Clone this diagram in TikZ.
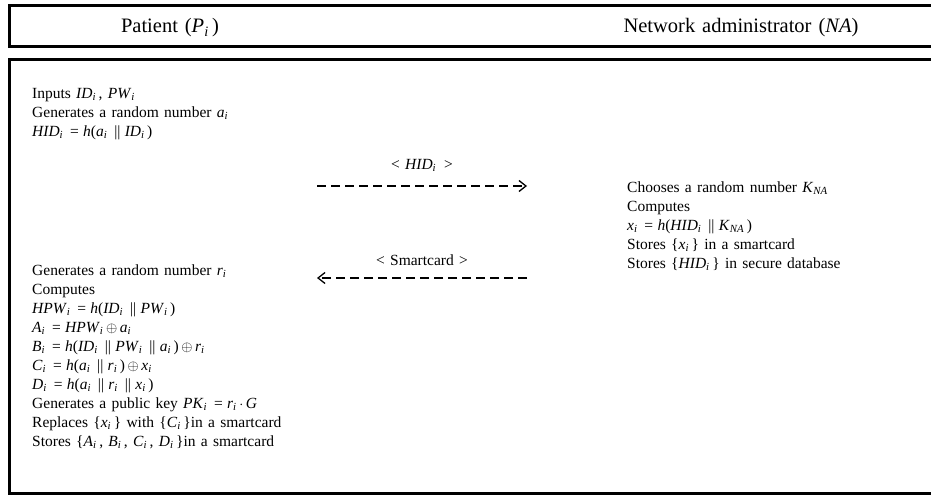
\documentclass[tikz,border=0pt]{standalone}
\usepackage{fontspec}
\setmainfont{Liberation Serif}
\usetikzlibrary{arrows.meta}
% italic variable with optional italic subscript
\newcommand\vr[1]{\textit{#1}}
\newcommand\sbi[1]{\textsubscript{\textit{#1}}\,}
\newcommand\eqs{\;=\;}
\newcommand\cc{\;||\;}
\newcommand\protofont{\fontsize{15.5}{19}\selectfont}
\newcommand\headfont{\fontsize{20.5}{24}\selectfont}
\newcommand\widespaces{\spaceskip=0.34em plus 0.1em minus 0.05em\relax}
\begin{document}
\begin{tikzpicture}[x=1pt,y=-1pt,
  frame/.style={line width=3pt, line cap=rect},
  txt/.style={inner sep=0pt, align=left, font=\protofont,
    execute at begin node=\widespaces},
  head/.style={txt, font=\headfont},
  msg/.style={line width=1.3pt, dash pattern=on 9pt off 5pt},
  tip/.style={-{Straight Barb[length=7pt,width=11pt,line width=1.3pt]}}]
\useasboundingbox (0,0) rectangle (931,495);

% header band and protocol frame (open on the right)
\draw[frame] (933,6) -- (9,6) -- (9,47) -- (933,47);
\draw[frame] (933,60) -- (9,60) -- (9,493) -- (933,493);

% party names
\node[head, anchor=base] (hdrP) at (170,33) {Patient (\vr{P}\sbi{i})};
\node[head, anchor=base] (hdrNA) at (741,33) {Network administrator (\vr{NA})};

% patient: registration request (anchored at the baseline of its last line)
\node[txt, anchor=base west] (regA) at (32,136) {%
Inputs \vr{ID}\sbi{i}, \vr{PW}\sbi{i}\\
Generates a random number \vr{a}\sbi{i}\\
\vr{HID}\sbi{i}\eqs\vr{h}(\vr{a}\sbi{i}\cc\vr{ID}\sbi{i})};

% network administrator: smartcard issue
\node[txt, anchor=base west] (regB) at (627,268) {%
Chooses a random number \vr{K}\sbi{NA}\\
Computes\\
\vr{x}\sbi{i}\eqs\vr{h}(\vr{HID}\sbi{i}\cc\vr{K}\sbi{NA})\\
Stores \{\vr{x}\sbi{i}\} in a smartcard\\
Stores \{\vr{HID}\sbi{i}\} in secure database};

% patient: smartcard update
\node[txt, anchor=base west] (regC) at (32,446) {%
Generates a random number \vr{r}\sbi{i}\\
Computes\\
\vr{HPW}\sbi{i}\eqs\vr{h}(\vr{ID}\sbi{i}\cc\vr{PW}\sbi{i})\\
\vr{A}\sbi{i}\eqs\vr{HPW}\sbi{i}$\oplus$\,\vr{a}\sbi{i}\\
\vr{B}\sbi{i}\eqs\vr{h}(\vr{ID}\sbi{i}\cc\vr{PW}\sbi{i}\cc\vr{a}\sbi{i})\,$\oplus$\,\vr{r}\sbi{i}\\
\vr{C}\sbi{i}\eqs\vr{h}(\vr{a}\sbi{i}\cc\vr{r}\sbi{i})\,$\oplus$\,\vr{x}\sbi{i}\\
\vr{D}\sbi{i}\eqs\vr{h}(\vr{a}\sbi{i}\cc\vr{r}\sbi{i}\cc\vr{x}\sbi{i})\\
Generates a public key \vr{PK}\sbi{i}\eqs\vr{r}\sbi{i}$\cdot$\,\vr{G}\\
Replaces \{\vr{x}\sbi{i}\} with \{\vr{C}\sbi{i}\}in a smartcard\\
Stores \{\vr{A}\sbi{i}, \vr{B}\sbi{i}, \vr{C}\sbi{i}, \vr{D}\sbi{i}\}in a smartcard};

% messages
\coordinate (m1s) at (317,186);
\coordinate (m1e) at (527,186);
\coordinate (m2s) at (527,278);
\coordinate (m2e) at (317,278);
\draw[msg, tip] (m1s) -- (m1e);
\draw[msg, tip] (m2s) -- (m2e);
\node[txt, anchor=base] (lblHID) at (422,169) {< \vr{HID}\sbi{i} >};
\node[txt, anchor=base] (lblSC) at (422,265) {< Smartcard >};
\end{tikzpicture}
\end{document}
